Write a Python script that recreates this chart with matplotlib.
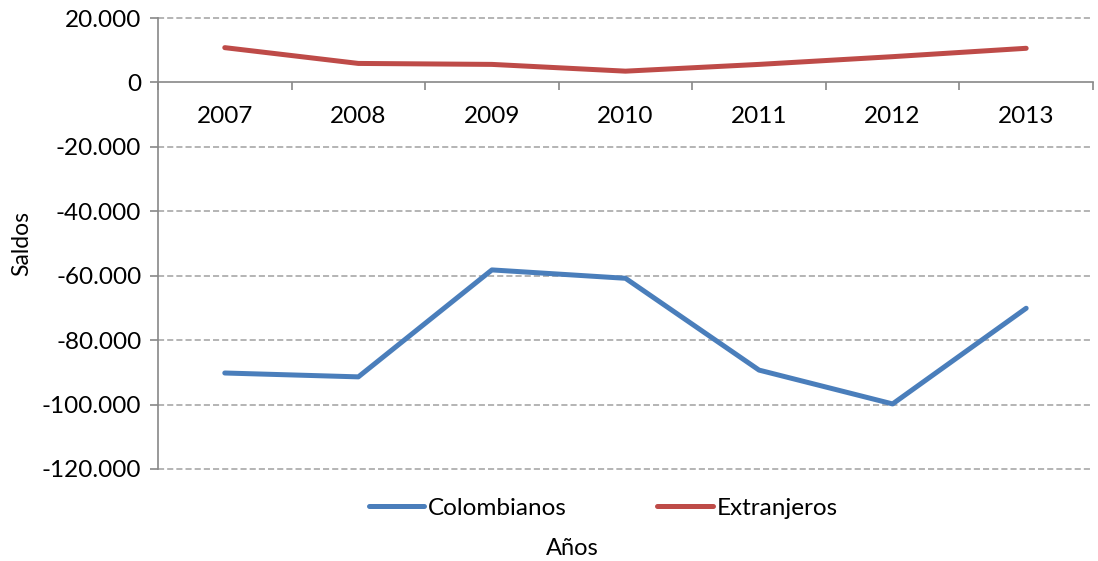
import matplotlib.pyplot as plt
from matplotlib.ticker import FuncFormatter, FixedLocator, NullFormatter

plt.rcParams['font.family'] = ['Lato', 'DejaVu Sans']

years = ['2007', '2008', '2009', '2010', '2011', '2012', '2013']
colombianos = [-90200, -91400, -58200, -60800, -89300, -99800, -70100]
extranjeros = [10800, 5900, 5600, 3500, 5600, 8000, 10600]

fig = plt.figure(figsize=(10.98, 5.61), dpi=100)
ax = fig.add_axes([0.1439, 0.164, 0.8515, 0.8039])

x = list(range(len(years)))
ax.plot(x, colombianos, color='#4A7EBB', lw=3.6, solid_capstyle='round', label='Colombianos')
ax.plot(x, extranjeros, color='#BE4B48', lw=3.6, solid_capstyle='round', label='Extranjeros')

ax.set_xlim(-0.5, len(years) - 0.5)
ax.set_ylim(-120000, 20000)
ax.set_yticks(range(-120000, 20001, 20000))
ax.yaxis.set_major_formatter(FuncFormatter(lambda v, p: f'{int(v):,}'.replace(',', '.')))

for v in range(-120000, 20001, 20000):
    if v != 0:
        ax.axhline(v, color='#A0A0A0', lw=1.1, ls=(0, (4, 2)), zorder=0, clip_on=False)

for s in ['top', 'right']:
    ax.spines[s].set_visible(False)
ax.spines['bottom'].set_position(('data', 0))
for s in ['left', 'bottom']:
    ax.spines[s].set_color('#888888')
    ax.spines[s].set_linewidth(1.2)

# category boundaries as ticks, labels at centres
ax.xaxis.set_major_locator(FixedLocator([i - 0.5 for i in range(len(years) + 1)]))
ax.xaxis.set_major_formatter(NullFormatter())
ax.xaxis.set_minor_locator(FixedLocator(x))
ax.set_xticklabels(years, minor=True)
ax.tick_params(axis='x', which='major', length=6, color='#888888', width=1.2, direction='out')
ax.tick_params(axis='x', which='minor', length=0, pad=17, labelsize=17.5)
ax.tick_params(axis='y', length=6, color='#888888', width=1.2, labelsize=17.5, pad=6)

ax.set_ylabel('Saldos', fontsize=16.5)
ax.yaxis.set_label_coords(-0.135, 0.5)

ax.legend(loc='upper center', bbox_to_anchor=(0.476, -0.015), ncol=2, frameon=False,
          fontsize=17.5, handlelength=2.3, handletextpad=0.15, columnspacing=3.7)
fig.text(0.521, 0.023, 'Años', ha='center', va='center', fontsize=17)

fig.savefig('out.png', dpi=100)
